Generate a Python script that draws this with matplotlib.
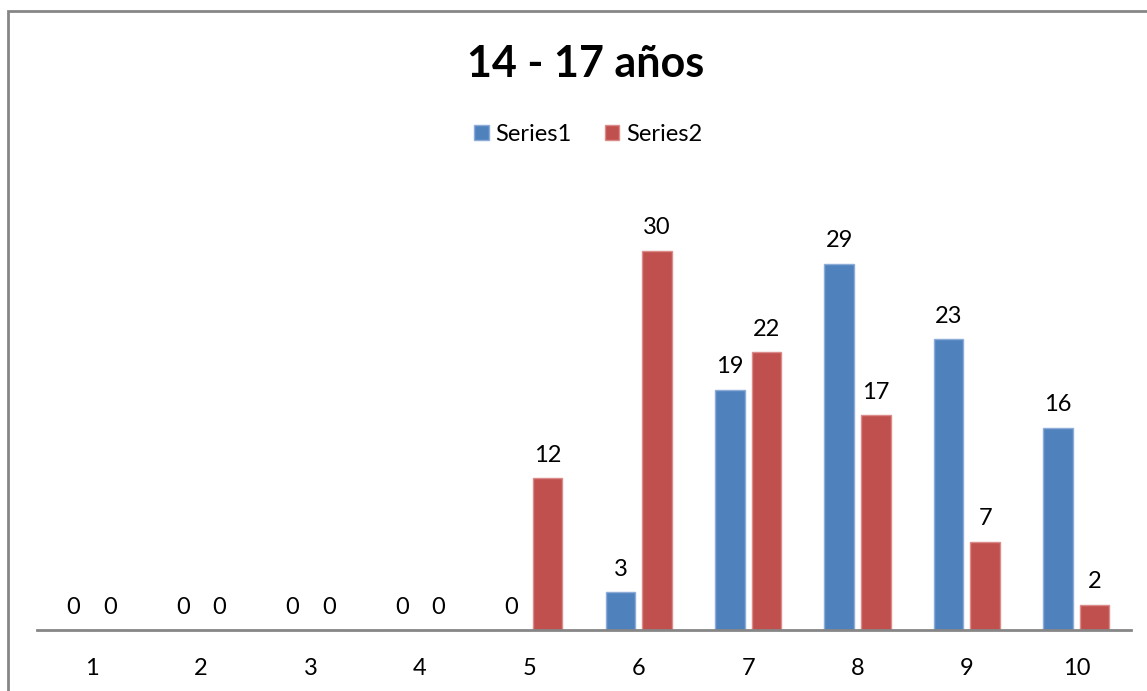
# 14 - 17 años の棒グラフ
import numpy as np
import matplotlib.pyplot as plt
from matplotlib.patches import Rectangle

plt.rcParams['font.family'] = ['Lato', 'DejaVu Sans']

categories = ["1", "2", "3", "4", "5", "6", "7", "8", "9", "10"]
series1 = [0, 0, 0, 0, 0, 3, 19, 29, 23, 16]
series2 = [0, 0, 0, 0, 12, 30, 22, 17, 7, 2]

x = np.arange(1, len(categories) + 1)
width = 0.27
offset = 0.167

fig = plt.figure(figsize=(11.47, 6.91), dpi=100)
ax = fig.add_axes([37 / 1147, 61 / 691, (1131 - 37) / 1147, 0.64])

# 外枠
fig.patches.append(Rectangle((8 / 1147, -0.1), 1.2, (691 - 11) / 691 + 0.1,
                             transform=fig.transFigure, fill=False,
                             edgecolor="#868686", linewidth=2))

b1 = ax.bar(x - offset, series1, width, color="#4F81BD", edgecolor="#8EACD8",
            linewidth=1, label="Series1")
b2 = ax.bar(x + offset, series2, width, color="#C0504D", edgecolor="#DB8C8A",
            linewidth=1, label="Series2")
ax.bar_label(b1, padding=9, fontsize=17)
ax.bar_label(b2, padding=9, fontsize=17)

ax.set_xlim(0.5, 10.5)
ax.set_ylim(0, 35)
ax.set_xticks(x, categories, fontsize=17)
ax.tick_params(axis="x", length=0, pad=20)
ax.set_yticks([])
for s in ["top", "right", "left"]:
    ax.spines[s].set_visible(False)
ax.spines["bottom"].set_color("#868686")
ax.spines["bottom"].set_linewidth(2)

fig.text(0.511, 0.907, "14 - 17 años", ha="center", va="center",
         fontsize=31, fontweight="bold")
fig.legend(loc="center", bbox_to_anchor=(0.513, 0.805), ncol=2, frameon=False,
           fontsize=17, handlelength=0.6, handleheight=0.6, handletextpad=0.3,
           columnspacing=1.4)

fig.savefig("out.png", dpi=100)
